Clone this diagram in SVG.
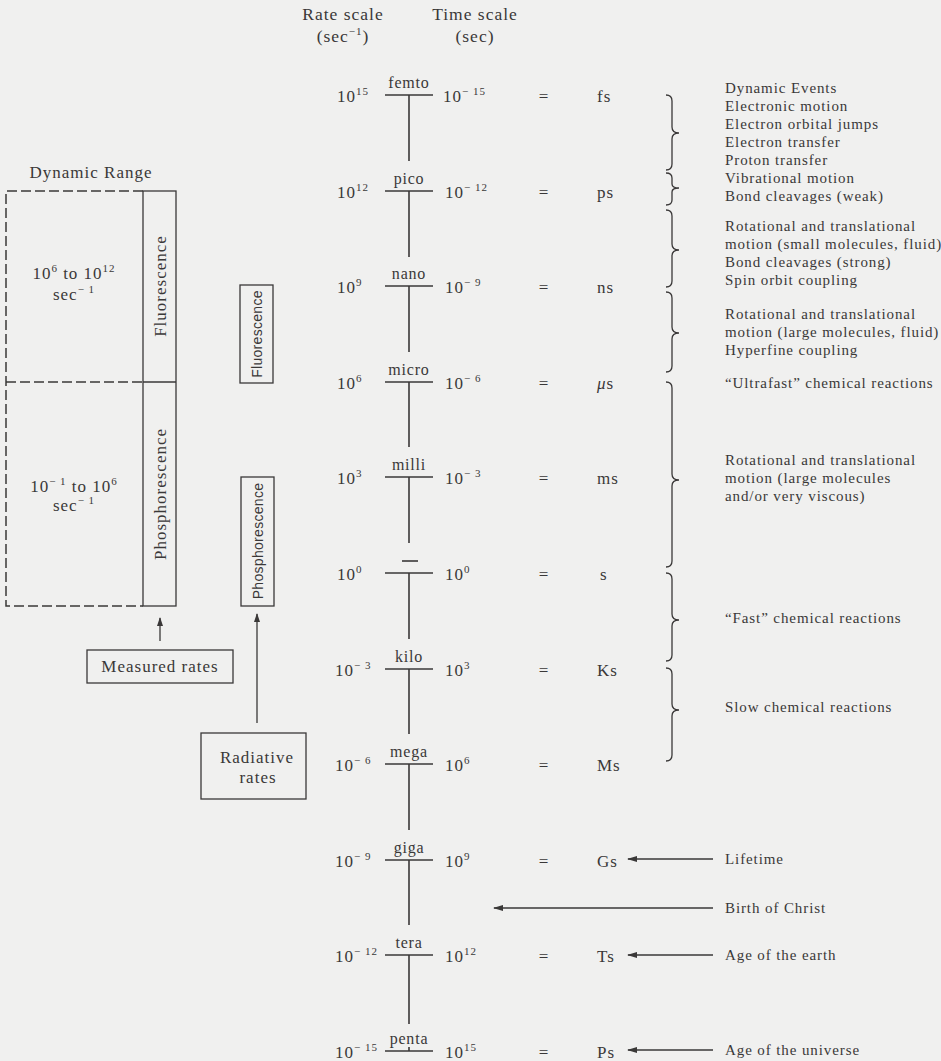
<svg xmlns="http://www.w3.org/2000/svg" width="941" height="1061" viewBox="0 0 941 1061">
<style>
text{font-family:"Liberation Serif","Times New Roman",serif;fill:#3a3838;}
.h{font-size:17.5px;letter-spacing:1px;}
.s{font-size:17px;letter-spacing:1px;}
.p{font-size:16px;letter-spacing:0.8px;text-anchor:middle;}
.r{font-size:15px;letter-spacing:0.9px;}
.sans{font-family:"Liberation Sans",Arial,sans-serif;font-size:14px;letter-spacing:0.3px;}
.sup{font-size:11px;}
.ln{stroke:#3a3838;stroke-width:1.6;fill:none;}
.thin{stroke:#3a3838;stroke-width:1.3;fill:none;}
.dash{stroke:#3a3838;stroke-width:1.5;fill:none;stroke-dasharray:10 4;}
.br{stroke:#3a3838;stroke-width:1.3;fill:none;}
</style>
<defs>
<marker id="ah" markerWidth="10" markerHeight="8" refX="9" refY="4" orient="auto" markerUnits="userSpaceOnUse">
<path d="M10,4 L0,1 L0,7 Z" fill="#3a3838"/>
</marker>
<marker id="au" markerWidth="8" markerHeight="10" refX="4" refY="1" orient="0" markerUnits="userSpaceOnUse">
<path d="M4,0 L1,9 L7,9 Z" fill="#3a3838"/>
</marker>
</defs>
<rect width="941" height="1061" fill="#f0f0ef"/>

<g id="headers">
<text class="h" x="343" y="20" text-anchor="middle">Rate scale</text>
<text class="h" x="343" y="42" text-anchor="middle">(sec<tspan class="sup" dy="-7">−1</tspan><tspan dy="7">)</tspan></text>
<text class="h" x="475" y="20" text-anchor="middle">Time scale</text>
<text class="h" x="475" y="42" text-anchor="middle">(sec)</text>
</g>

<g id="scale">
<g class="ln">
<line x1="385" y1="95" x2="433" y2="95"/><line x1="409" y1="95" x2="409" y2="161"/>
<line x1="385" y1="191" x2="433" y2="191"/><line x1="409" y1="191" x2="409" y2="257"/>
<line x1="385" y1="286" x2="433" y2="286"/><line x1="409" y1="286" x2="409" y2="352"/>
<line x1="385" y1="382" x2="433" y2="382"/><line x1="409" y1="382" x2="409" y2="447"/>
<line x1="385" y1="477" x2="433" y2="477"/><line x1="409" y1="477" x2="409" y2="543"/>
<line x1="385" y1="573" x2="433" y2="573"/><line x1="409" y1="573" x2="409" y2="639"/>
<line x1="402" y1="561" x2="418" y2="561"/>
<line x1="385" y1="669" x2="433" y2="669"/><line x1="409" y1="669" x2="409" y2="734"/>
<line x1="385" y1="764" x2="433" y2="764"/><line x1="409" y1="764" x2="409" y2="830"/>
<line x1="385" y1="860" x2="433" y2="860"/><line x1="409" y1="860" x2="409" y2="925"/>
<line x1="385" y1="955" x2="433" y2="955"/><line x1="409" y1="955" x2="409" y2="1024"/>
<line x1="385" y1="1051" x2="433" y2="1051"/><line x1="409" y1="1047" x2="409" y2="1051"/>
</g>
<g id="prefixes">
<text class="p" x="409" y="88">femto</text>
<text class="p" x="409" y="184">pico</text>
<text class="p" x="409" y="279">nano</text>
<text class="p" x="409" y="375">micro</text>
<text class="p" x="409" y="470">milli</text>
<text class="p" x="409" y="662">kilo</text>
<text class="p" x="409" y="757">mega</text>
<text class="p" x="409" y="853">giga</text>
<text class="p" x="409" y="948">tera</text>
<text class="p" x="409" y="1044">penta</text>
</g>
<g id="rates">
<text class="s" x="337" y="102">10<tspan class="sup" dy="-7">15</tspan></text>
<text class="s" x="337" y="198">10<tspan class="sup" dy="-7">12</tspan></text>
<text class="s" x="337" y="293">10<tspan class="sup" dy="-7">9</tspan></text>
<text class="s" x="337" y="389">10<tspan class="sup" dy="-7">6</tspan></text>
<text class="s" x="337" y="484">10<tspan class="sup" dy="-7">3</tspan></text>
<text class="s" x="337" y="580">10<tspan class="sup" dy="-7">0</tspan></text>
<text class="s" x="335" y="676">10<tspan class="sup" dy="-7">− 3</tspan></text>
<text class="s" x="335" y="771">10<tspan class="sup" dy="-7">− 6</tspan></text>
<text class="s" x="335" y="867">10<tspan class="sup" dy="-7">− 9</tspan></text>
<text class="s" x="335" y="962">10<tspan class="sup" dy="-7">− 12</tspan></text>
<text class="s" x="335" y="1058">10<tspan class="sup" dy="-7">− 15</tspan></text>
</g>
<g id="times">
<text class="s" x="443" y="102">10<tspan class="sup" dy="-7">− 15</tspan></text>
<text class="s" x="445" y="198">10<tspan class="sup" dy="-7">− 12</tspan></text>
<text class="s" x="445" y="293">10<tspan class="sup" dy="-7">− 9</tspan></text>
<text class="s" x="445" y="389">10<tspan class="sup" dy="-7">− 6</tspan></text>
<text class="s" x="445" y="484">10<tspan class="sup" dy="-7">− 3</tspan></text>
<text class="s" x="445" y="580">10<tspan class="sup" dy="-7">0</tspan></text>
<text class="s" x="445" y="676">10<tspan class="sup" dy="-7">3</tspan></text>
<text class="s" x="445" y="771">10<tspan class="sup" dy="-7">6</tspan></text>
<text class="s" x="445" y="867">10<tspan class="sup" dy="-7">9</tspan></text>
<text class="s" x="445" y="962">10<tspan class="sup" dy="-7">12</tspan></text>
<text class="s" x="445" y="1058">10<tspan class="sup" dy="-7">15</tspan></text>
</g>
<g id="equals">
<text class="s" x="544" y="102" text-anchor="middle">=</text>
<text class="s" x="544" y="198" text-anchor="middle">=</text>
<text class="s" x="544" y="293" text-anchor="middle">=</text>
<text class="s" x="544" y="389" text-anchor="middle">=</text>
<text class="s" x="544" y="484" text-anchor="middle">=</text>
<text class="s" x="544" y="580" text-anchor="middle">=</text>
<text class="s" x="544" y="676" text-anchor="middle">=</text>
<text class="s" x="544" y="771" text-anchor="middle">=</text>
<text class="s" x="544" y="867" text-anchor="middle">=</text>
<text class="s" x="544" y="962" text-anchor="middle">=</text>
<text class="s" x="544" y="1058" text-anchor="middle">=</text>
</g>
<g id="units">
<text class="s" x="597" y="102">fs</text>
<text class="s" x="597" y="198">ps</text>
<text class="s" x="597" y="293">ns</text>
<text class="s" x="597" y="389"><tspan font-style="italic">μ</tspan>s</text>
<text class="s" x="597" y="484">ms</text>
<text class="s" x="600" y="580">s</text>
<text class="s" x="597" y="676" letter-spacing="3">Ks</text>
<text class="s" x="597" y="771">Ms</text>
<text class="s" x="597" y="867">Gs</text>
<text class="s" x="597" y="962">Ts</text>
<text class="s" x="597" y="1058">Ps</text>
</g>
</g>

<g id="left-range">
<text class="s" x="91" y="178" text-anchor="middle" letter-spacing="1.3">Dynamic Range</text>
<path class="dash" d="M143,191 H6 V606 H143"/>
<line class="dash" x1="6" y1="382" x2="143" y2="382"/>
<text class="s" x="74" y="279" text-anchor="middle">10<tspan class="sup" dy="-7">6</tspan><tspan dy="7"> to 10</tspan><tspan class="sup" dy="-7">12</tspan></text>
<text class="s" x="74" y="300" text-anchor="middle">sec<tspan class="sup" dy="-7">− 1</tspan></text>
<text class="s" x="74" y="492" text-anchor="middle">10<tspan class="sup" dy="-7">− 1</tspan><tspan dy="7"> to 10</tspan><tspan class="sup" dy="-7">6</tspan></text>
<text class="s" x="74" y="511" text-anchor="middle">sec<tspan class="sup" dy="-7">− 1</tspan></text>
</g>
<g id="measured-bar">
<rect class="thin" x="143" y="191" width="33" height="415"/>
<line class="thin" x1="143" y1="382" x2="176" y2="382"/>
<text class="s" transform="translate(166,286) rotate(-90)" text-anchor="middle">Fluorescence</text>
<text class="s" transform="translate(166,494) rotate(-90)" text-anchor="middle">Phosphorescence</text>
</g>
<g id="radiative-fluorescence">
<rect class="thin" x="240" y="285" width="33" height="98"/>
<text class="sans" transform="translate(262,334) rotate(-90)" text-anchor="middle">Fluorescence</text>
</g>
<g id="radiative-phosphorescence">
<rect class="thin" x="241" y="477" width="33" height="129"/>
<text class="sans" transform="translate(263,541) rotate(-90)" text-anchor="middle">Phosphorescence</text>
</g>
<g id="measured-rates">
<rect class="thin" x="87" y="650" width="146" height="33"/>
<text class="s" x="160" y="672" text-anchor="middle" letter-spacing="1.3">Measured rates</text>
</g>
<g id="radiative-rates">
<rect class="thin" x="201" y="733" width="105" height="66"/>
<text class="s" x="257" y="763" text-anchor="middle">Radiative</text>
<text class="s" x="258" y="783" text-anchor="middle">rates</text>
</g>

<g id="braces" class="br">
<path d="M666,95 Q672,95 672,101 L672,127 Q672,133 679,133 Q672,133 672,139 L672,164 Q672,170 666,170"/>
<path d="M666,173 Q672,173 672,178 L672,184 Q672,188 679,188 Q672,188 672,192 L672,200 Q672,205 666,205"/>
<path d="M666,210 Q672,210 672,216 L672,244 Q672,250 679,250 Q672,250 672,256 L672,281 Q672,287 666,287"/>
<path d="M666,292 Q672,292 672,298 L672,327 Q672,333 679,333 Q672,333 672,339 L672,366 Q672,372 666,372"/>
<path d="M666,382 Q672,382 672,388 L672,474 Q672,480 679,480 Q672,480 672,486 L672,561 Q672,567 666,567"/>
<path d="M666,573 Q672,573 672,579 L672,614 Q672,620 679,620 Q672,620 672,626 L672,655 Q672,661 666,661"/>
<path d="M666,668 Q672,668 672,674 L672,704 Q672,710 679,710 Q672,710 672,716 L672,755 Q672,761 666,761"/>
</g>

<g id="events">
<text class="r" x="725" y="93">Dynamic Events</text>
<text class="r" x="725" y="111">Electronic motion</text>
<text class="r" x="725" y="129">Electron orbital jumps</text>
<text class="r" x="725" y="147">Electron transfer</text>
<text class="r" x="725" y="165">Proton transfer</text>
<text class="r" x="725" y="183">Vibrational motion</text>
<text class="r" x="725" y="201">Bond cleavages (weak)</text>
<text class="r" x="725" y="231">Rotational and translational</text>
<text class="r" x="725" y="249">motion (small molecules, fluid)</text>
<text class="r" x="725" y="267">Bond cleavages (strong)</text>
<text class="r" x="725" y="285">Spin orbit coupling</text>
<text class="r" x="725" y="319">Rotational and translational</text>
<text class="r" x="725" y="337">motion (large molecules, fluid)</text>
<text class="r" x="725" y="355">Hyperfine coupling</text>
<text class="r" x="725" y="388">“Ultrafast” chemical reactions</text>
<text class="r" x="725" y="465">Rotational and translational</text>
<text class="r" x="725" y="483">motion (large molecules</text>
<text class="r" x="725" y="501">and/or very viscous)</text>
<text class="r" x="725" y="623">“Fast” chemical reactions</text>
<text class="r" x="725" y="712">Slow chemical reactions</text>
<text class="r" x="725" y="864">Lifetime</text>
<text class="r" x="725" y="913">Birth of Christ</text>
<text class="r" x="725" y="960">Age of the earth</text>
<text class="r" x="725" y="1055">Age of the universe</text>
</g>

<g id="connectors" class="thin">
<line x1="160" y1="641" x2="160" y2="618" marker-end="url(#au)"/>
<line x1="257" y1="723" x2="257" y2="614" marker-end="url(#au)"/>
<line x1="713" y1="859" x2="628" y2="859" marker-end="url(#ah)"/>
<line x1="713" y1="908" x2="494" y2="908" marker-end="url(#ah)"/>
<line x1="713" y1="955" x2="628" y2="955" marker-end="url(#ah)"/>
<line x1="713" y1="1050" x2="628" y2="1050" marker-end="url(#ah)"/>
</g>
</svg>
